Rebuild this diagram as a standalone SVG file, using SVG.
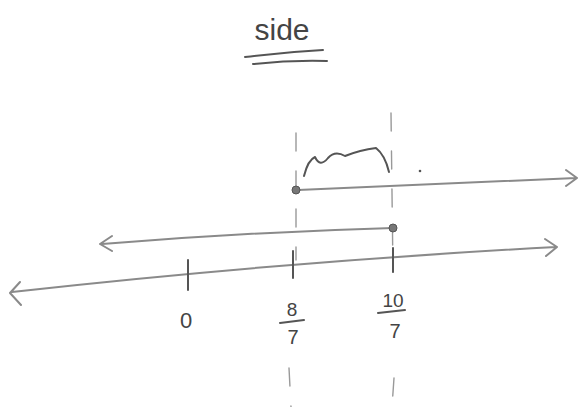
<svg xmlns="http://www.w3.org/2000/svg" width="579" height="407" viewBox="0 0 579 407">
<style>
.pen{fill:none;stroke:#8a8a8a;stroke-width:2;stroke-linecap:round;stroke-linejoin:round}
.dark{fill:none;stroke:#555;stroke-width:2;stroke-linecap:round;stroke-linejoin:round}
.guide{fill:none;stroke:#999;stroke-width:1.4;stroke-dasharray:18 20;stroke-linecap:round}
.lbl{font-family:"Liberation Sans",Arial,sans-serif;fill:#444;text-anchor:middle}
.dot{fill:#777;stroke:#555;stroke-width:1}
</style>
<rect width="579" height="407" fill="#fff"/>
<g id="title">
<text class="lbl" x="282" y="40" font-size="30">side</text>
<path class="dark" d="M245 57 Q285 52 323 50"/>
<path class="dark" d="M253 64 Q290 60 327 61"/>
</g>
<g id="guides">
<path class="guide" d="M296 133 L296 260 M289 368 L291 407"/>
<path class="guide" d="M391 113 L393 272 M394 378 L392 407"/>
</g>
<g id="connectors">
<path class="pen" d="M298 190 Q440 184 576 178 M566 170 L577 178 L566 186"/>
<path class="pen" d="M393 228 Q250 232 102 244 M112 236 L100 244 L112 251"/>
<path class="pen" d="M12 292 Q280 262 556 247 M545 239 L557 247 L546 256 M20 282 L10 293 L21 305"/>
<path class="dark" d="M188 260 L188 290 M293 251 L293 278 M393 248 L393 272"/>
</g>
<g id="brace">
<path class="dark" d="M304 176 Q308 160 315 157 Q320 168 328 158 Q335 150 345 156 Q360 150 376 148 Q385 155 389 172"/>
<circle cx="420" cy="171" r="1.3" fill="#555"/>
</g>
<g id="points">
<circle class="dot" cx="296" cy="190" r="4"/>
<circle class="dot" cx="393" cy="228" r="4"/>
</g>
<g id="labels">
<text class="lbl" x="186" y="328" font-size="22">0</text>
<text class="lbl" x="292" y="316" font-size="19">8</text>
<path class="dark" d="M280 323 L304 320"/>
<text class="lbl" x="293" y="344" font-size="20">7</text>
<text class="lbl" x="393" y="307" font-size="19">10</text>
<path class="dark" d="M378 313 L405 310"/>
<text class="lbl" x="395" y="338" font-size="20">7</text>
</g>
</svg>
